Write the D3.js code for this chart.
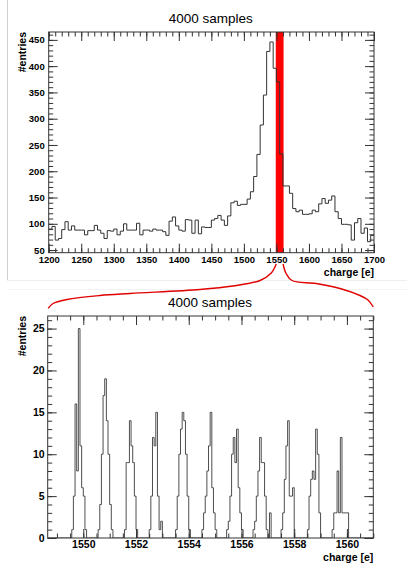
<!DOCTYPE html>
<html>
<head>
<meta charset="utf-8">
<script src="https://cdn.jsdelivr.net/npm/d3@7"></script>
<style>
body { margin: 0; background: #fff; }
svg { display: block; }
text { font-family: "Liberation Sans", Arial, Helvetica, sans-serif; fill: #000; }
</style>
</head>
<body>
<script>
var w = 407, h = 563;

// upper histogram: 100 bins of 5 e between 1200 and 1700
var topRange = [1200, 1700];
var topCounts = [
  90, 95, 69, 72, 89, 104, 88, 96, 88, 88,
  88, 79, 87, 87, 97, 88, 82, 72, 87, 86,
  90, 79, 86, 100, 88, 88, 88, 101, 79, 88,
  88, 86, 90, 88, 88, 85, 78, 105, 113, 96,
  88, 86, 108, 107, 82, 107, 81, 94, 93, 93,
  107, 110, 116, 107, 97, 115, 140, 143, 135, 137,
  137, 147, 161, 190, 232, 288, 345, 428, 446, 396,
  370, 233, 172, 172, 158, 129, 123, 126, 118, 118,
  119, 126, 123, 138, 148, 139, 145, 153, 123, 110,
  99, 99, 98, 69, 102, 110, 82, 92, 66, 78
];
var topYDomain = [45, 465];
var topXTicks = [1200, 1250, 1300, 1350, 1400, 1450, 1500, 1550, 1600, 1650, 1700];
var topYTicks = [50, 100, 150, 200, 250, 300, 350, 400, 450];
var selection = [1549, 1561];

// lower histogram: zoom on the selected window, bins of 1/16 e
var zoomRange = [1548.65, 1561];
var zoomBinWidth = 0.0625;
var zoomFirstEdge = 1548.625;
var peakStarts = [1549.5625, 1550.5625, 1551.5625, 1552.5, 1553.5, 1554.5,
                  1555.4375, 1556.4375, 1557.5, 1558.5, 1559.4375];
var peakCounts = [
  [1, 5, 16, 8, 25, 11, 6, 5, 1],
  [1, 4, 10, 17, 19, 14, 10, 4, 1],
  [1, 9, 9, 14, 11, 9, 5, 1],
  [1, 5, 12, 11, 15, 5, 1, 2],
  [1, 5, 10, 13, 15, 14, 10, 5, 1],
  [1, 3, 5, 8, 11, 15, 6, 3, 1],
  [1, 2, 5, 10, 12, 9, 13, 6, 3, 1],
  [1, 2, 5, 8, 12, 9, 9, 5, 1, 0, 3],
  [1, 3, 7, 11, 14, 5, 5, 6],
  [1, 5, 7, 8, 7, 13, 10, 3],
  [1, 3, 3, 8, 3, 12, 3, 3, 3, 3]
];
var zoomYDomain = [0, 26.5];
var zoomXTicks = [1550, 1552, 1554, 1556, 1558, 1560];
var zoomYTicks = [0, 5, 10, 15, 20, 25];

var title = "4000 samples";
var xTitle = "charge [e]";
var yTitle = "#entries";

var svg = d3.select("body").append("svg")
  .attr("width", w)
  .attr("height", h);

// light borders of the pasted upper canvas
svg.append("line").attr("x1", 7.5).attr("x2", 7.5).attr("y1", 0).attr("y2", 280)
  .attr("stroke", "#cfcfcf").attr("stroke-width", 1);
svg.append("line").attr("x1", 7).attr("x2", w).attr("y1", 280.5).attr("y2", 280.5)
  .attr("stroke", "#efefef").attr("stroke-width", 1);
svg.append("line").attr("x1", 7).attr("x2", w).attr("y1", 289.5).attr("y2", 289.5)
  .attr("stroke", "#f3f3f3").attr("stroke-width", 1);

//scales
var xTop = d3.scaleLinear().domain(topRange).range([48.7, 374]);
var yTop = d3.scaleLinear().domain(topYDomain).range([252.7, 32]);
var xZoom = d3.scaleLinear().domain(zoomRange).range([47.7, 373.3]);
var yZoom = d3.scaleLinear().domain(zoomYDomain).range([538, 316]);

// histogram outline, points on the low edge of each bin
function stepPath(x, y, edges, counts) {
  var pts = counts.map(function(c, i) { return [edges[i], c]; });
  pts.push([edges[counts.length], counts[counts.length - 1]]);
  return d3.line()
    .x(function(d) { return x(d[0]); })
    .y(function(d) { return y(d[1]); })
    .curve(d3.curveStepAfter)(pts);
}

function axes(g, x, y, o) {
  var xr = x.range(), yr = y.range();
  function tidy(sel) {
    sel.select(".domain").remove();
    sel.attr("font-family", null).attr("font-size", null);
    sel.selectAll("line").attr("stroke", "#333");
  }
  // bottom
  g.append("g").attr("transform", "translate(0," + yr[0] + ")")
    .call(d3.axisBottom(x).tickValues(o.xMinor).tickSize(-o.minor).tickFormat(""))
    .call(tidy);
  g.append("g").attr("transform", "translate(0," + yr[0] + ")")
    .call(d3.axisBottom(x).tickValues(o.xMajor).tickSize(-o.major).tickPadding(o.xPad).tickFormat(d3.format("d")))
    .call(tidy)
    .selectAll("text").style("font-size", o.font + "px").style("font-weight", "bold");
  // top
  g.append("g").attr("transform", "translate(0," + yr[1] + ")")
    .call(d3.axisTop(x).tickValues(o.xMinor).tickSize(-o.minor).tickFormat(""))
    .call(tidy);
  g.append("g").attr("transform", "translate(0," + yr[1] + ")")
    .call(d3.axisTop(x).tickValues(o.xMajor).tickSize(-o.major).tickFormat(""))
    .call(tidy);
  // left
  g.append("g").attr("transform", "translate(" + xr[0] + ",0)")
    .call(d3.axisLeft(y).tickValues(o.yMinor).tickSize(-o.minor).tickFormat(""))
    .call(tidy);
  g.append("g").attr("transform", "translate(" + xr[0] + ",0)")
    .call(d3.axisLeft(y).tickValues(o.yMajor).tickSize(-o.major).tickPadding(o.yPad).tickFormat(d3.format("d")))
    .call(tidy)
    .selectAll("text").style("font-size", o.font + "px").style("font-weight", "bold");
  // right
  g.append("g").attr("transform", "translate(" + xr[1] + ",0)")
    .call(d3.axisRight(y).tickValues(o.yMinor).tickSize(-o.minor).tickFormat(""))
    .call(tidy);
  g.append("g").attr("transform", "translate(" + xr[1] + ",0)")
    .call(d3.axisRight(y).tickValues(o.yMajor).tickSize(-o.major).tickFormat(""))
    .call(tidy);

  g.append("rect")
    .attr("x", xr[0]).attr("y", yr[1])
    .attr("width", xr[1] - xr[0]).attr("height", yr[0] - yr[1])
    .attr("fill", "none").attr("stroke", "#333").attr("stroke-width", 1);

  g.append("text")
    .attr("x", (xr[0] + xr[1]) / 2 - 0.5).attr("y", o.titleY)
    .attr("text-anchor", "middle")
    .style("font-size", "13.5px")
    .text(title);
  g.append("text")
    .attr("x", xr[1]).attr("y", o.xTitleY)
    .attr("text-anchor", "end")
    .style("font-size", "10.5px").style("font-weight", "bold")
    .text(xTitle);
  g.append("text")
    .attr("transform", "translate(26," + yr[1] + ") rotate(-90)")
    .attr("text-anchor", "end")
    .style("font-size", "10.5px").style("font-weight", "bold")
    .text(yTitle);
}

// ---------- upper panel ----------
var gTop = svg.append("g");
gTop.append("clipPath").attr("id", "clipTop").append("rect")
  .attr("x", xTop.range()[0]).attr("y", yTop.range()[1])
  .attr("width", xTop.range()[1] - xTop.range()[0])
  .attr("height", yTop.range()[0] - yTop.range()[1]);

gTop.append("rect")
  .attr("x", xTop(selection[0]))
  .attr("y", yTop.range()[1])
  .attr("width", xTop(selection[1]) - xTop(selection[0]))
  .attr("height", yTop.range()[0] - yTop.range()[1])
  .attr("fill", "#ff0000");

var topBinWidth = (topRange[1] - topRange[0]) / topCounts.length;
var topEdges = d3.range(topCounts.length + 1).map(function(i) { return topRange[0] + i * topBinWidth; });
gTop.append("path")
  .attr("d", stepPath(xTop, yTop, topEdges, topCounts))
  .attr("clip-path", "url(#clipTop)")
  .attr("fill", "none").attr("stroke", "#333").attr("stroke-width", 1);

axes(gTop, xTop, yTop, {
  xMajor: topXTicks, xMinor: d3.range(topRange[0], topRange[1] + 1, 10),
  yMajor: topYTicks, yMinor: d3.range(50, 461, 10),
  major: 9, minor: 4.5, font: 9.5, xPad: 3.5, yPad: 4,
  titleY: 22.5, xTitleY: 275.5
});

// ---------- brace linking the band to the zoom ----------
var brace = d3.line().curve(d3.curveCatmullRom);
var bx0 = xTop(selection[0]) + 0.5, bx1 = xTop(selection[1]) - 0.5;
svg.append("path")
  .attr("d", brace([[bx0, 264], [bx0 - 5, 273], [260, 280.5], [233, 286], [200, 289.5],
                    [130, 293.5], [100, 295.5], [67, 299.5], [53, 303.5], [xZoom.range()[0] + 0.5, 308.3]]))
  .attr("fill", "none").attr("stroke", "#e00000").attr("stroke-width", 1.4);
svg.append("path")
  .attr("d", brace([[bx1, 264], [bx1 + 3, 273.5], [292, 280.5], [316, 283.5], [340, 288.5],
                    [360, 295.5], [368, 300], [xZoom.range()[1], 307]]))
  .attr("fill", "none").attr("stroke", "#e00000").attr("stroke-width", 1.4);

// ---------- lower panel ----------
var gZoom = svg.append("g");
gZoom.append("clipPath").attr("id", "clipZoom").append("rect")
  .attr("x", xZoom.range()[0]).attr("y", yZoom.range()[1])
  .attr("width", xZoom.range()[1] - xZoom.range()[0])
  .attr("height", yZoom.range()[0] - yZoom.range()[1]);

var nZoom = Math.round((zoomRange[1] - zoomFirstEdge) / zoomBinWidth);
var zoomEdges = d3.range(nZoom + 1).map(function(i) { return zoomFirstEdge + i * zoomBinWidth; });
var zoomCounts = d3.range(nZoom).map(function() { return 0; });
peakStarts.forEach(function(s, p) {
  var k = Math.round((s - zoomFirstEdge) / zoomBinWidth);
  peakCounts[p].forEach(function(c, j) { zoomCounts[k + j] = c; });
});

gZoom.append("path")
  .attr("d", stepPath(xZoom, yZoom, zoomEdges, zoomCounts))
  .attr("clip-path", "url(#clipZoom)")
  .attr("fill", "none").attr("stroke", "#3a3a3a").attr("stroke-width", 0.9);

axes(gZoom, xZoom, yZoom, {
  xMajor: zoomXTicks, xMinor: d3.range(1549, 1561.01, 0.5),
  yMajor: zoomYTicks, yMinor: d3.range(0, 27, 1),
  major: 9, minor: 4.5, font: 10.5, xPad: 2.8, yPad: 3,
  titleY: 307, xTitleY: 560.5
});
</script>
</body>
</html>
